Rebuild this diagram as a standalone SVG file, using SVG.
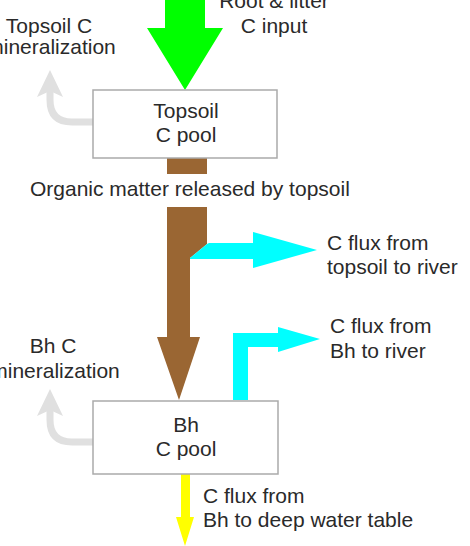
<svg xmlns="http://www.w3.org/2000/svg" width="470" height="546" viewBox="0 0 470 546">
<style>
text{font-family:"Liberation Sans",Arial,sans-serif;font-size:21px;fill:#2a2a2a}
.box{fill:#fff;stroke:#aaa;stroke-width:1.5}
.gray{fill:none;stroke:#e0e0e0;stroke-width:7}
.grayh{fill:#e0e0e0}
</style>
<rect width="470" height="546" fill="#fff"/>
<g id="connectors">
<polygon id="root-input" points="165,0 205,0 205,28 223,28 185,90 147,28 165,28" fill="#00ff00"/>
<rect id="topsoil-out" x="167" y="158" width="40" height="16" fill="#9a6633"/>
<polygon id="organic-flux" points="167,207 207,207 207,244 190,258 190,337 200,337 179,400 157,337 167,337" fill="#9a6633"/>
<polygon id="topsoil-river" points="207,244 209,243 253,243 253,232 317,250 253,268 253,259 190,259 190,258" fill="#00ffff"/>
<polygon id="bh-river" points="233,400 233,333 278,333 278,327 320,339 278,352 278,347 248,347 248,400" fill="#00ffff"/>
<polygon id="bh-deep" points="181,474 190,474 190,517 194,517 185,546 176,517 181,517" fill="#ffff00"/>
<path class="gray" d="M93,122 H72 Q50,122 50,100 V88"/>
<polygon class="grayh" points="50,70 63,97 50,91 37,97"/>
<path class="gray" d="M93,442 H72 Q50,442 50,420 V408"/>
<polygon class="grayh" points="50,389 63,416 50,410 37,416"/>
</g>
<g id="topsoil-pool">
<rect class="box" x="93" y="90" width="184" height="68"/>
<text x="186" y="118" text-anchor="middle">Topsoil</text>
<text x="186" y="142" text-anchor="middle">C pool</text>
</g>
<g id="bh-pool">
<rect class="box" x="93" y="401" width="185" height="73"/>
<text x="186" y="432" text-anchor="middle">Bh</text>
<text x="186" y="456" text-anchor="middle">C pool</text>
</g>
<g id="labels">
<text x="274" y="8" text-anchor="middle">Root &amp; litter</text>
<text x="274" y="33" text-anchor="middle">C input</text>
<text x="49" y="33" text-anchor="middle">Topsoil C</text>
<text x="51" y="54" text-anchor="middle">mineralization</text>
<text x="30" y="196">Organic matter released by topsoil</text>
<text x="327" y="250">C flux from</text>
<text x="327" y="274">topsoil to river</text>
<text x="53" y="353" text-anchor="middle">Bh C</text>
<text x="55" y="378" text-anchor="middle">mineralization</text>
<text x="330" y="333">C flux from</text>
<text x="330" y="358">Bh to river</text>
<text x="203" y="503">C flux from</text>
<text x="203" y="527">Bh to deep water table</text>
</g>
</svg>
